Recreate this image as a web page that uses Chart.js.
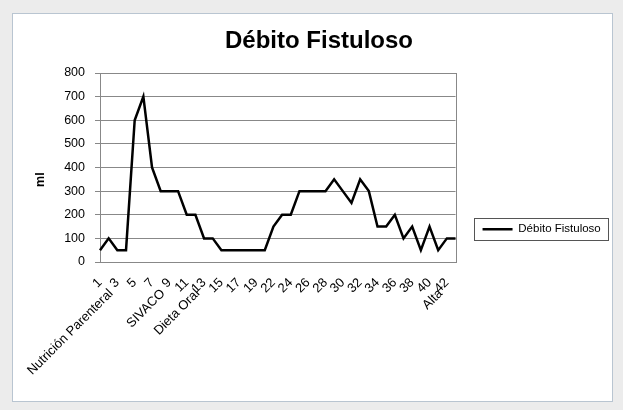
<!DOCTYPE html>
<html>
<head>
<meta charset="utf-8">
<script src="https://cdn.jsdelivr.net/npm/chart.js@4.4.0/dist/chart.umd.min.js"></script>
<style>
  html, body { margin: 0; padding: 0; background: #ececec; }
  #wrap { position: relative; width: 623px; height: 410px; }
  #frame { position: absolute; left: 12px; top: 13px; width: 599px; height: 387px; background: #fff; border: 1px solid #b9c5d1; }
  #fistula { position: absolute; left: 0; top: 0; }
</style>
</head>
<body>
<div id="wrap">
  <div id="frame"></div>
  <canvas id="fistula" width="623" height="410"></canvas>
</div>
<script>
// dias de internacion (el 21 no figura)
const days = [1, 2, 3, 4, 5, 6, 7, 8, 9, 10, 11, 12, 13, 14, 15, 16, 17, 18, 19, 20,
  22, 23, 24, 25, 26, 27, 28, 29, 30, 31, 32, 33, 34, 35, 36, 37, 38, 39, 40, 41, 42, 43];
// debito en ml
const volumes = [50, 100, 50, 50, 600, 700, 400, 300, 300, 300, 200, 200, 100, 100, 50, 50, 50, 50, 50, 50,
  150, 200, 200, 300, 300, 300, 300, 350, 300, 250, 350, 300, 150, 150, 200, 100, 150, 50, 150, 50, 100, 100];
const eventDays = [1, 7, 11, 40];
const eventNames = ['Nutrición Parenteral', 'SIVACO', 'Dieta Oral', 'Alta'];
const yTicks = [0, 100, 200, 300, 400, 500, 600, 700, 800];

const FONT = '"Liberation Sans", Arial, sans-serif';

function dayLabel(i) {
  if (i % 2) return '';
  const d = days[i];
  const k = eventDays.indexOf(d);
  return k >= 0 ? [String(d), eventNames[k]] : String(d);
}

// marco gris del area de trazado + borde de la leyenda
const plotFrame = {
  id: 'plotFrame',
  beforeDatasetsDraw(chart) {
    const a = chart.chartArea;
    const ctx = chart.ctx;
    ctx.save();
    ctx.strokeStyle = '#888';
    ctx.lineWidth = 1;
    ctx.strokeRect(Math.round(a.left) + 0.5, Math.round(a.top) + 0.5, Math.round(a.right - a.left), Math.round(a.bottom - a.top));
    ctx.restore();
  },
  afterDraw(chart) {
    const box = chart.legend.legendHitBoxes[0];
    if (!box) return;
    const ctx = chart.ctx;
    const l = Math.round(box.left) - 8.5;
    const r = Math.round(box.left + box.width) + 7.5;
    ctx.save();
    ctx.strokeStyle = '#555';
    ctx.lineWidth = 1;
    ctx.strokeRect(l, Math.round(box.top) - 5.5, r - l, Math.round(box.height) + 10);
    ctx.restore();
  }
};

new Chart(document.getElementById('fistula'), {
  type: 'line',
  data: {
    labels: days,
    datasets: [{
      label: 'Débito Fistuloso',
      data: volumes,
      borderColor: '#000',
      backgroundColor: '#000',
      borderWidth: 2.5,
      pointRadius: 0,
      tension: 0,
      fill: false
    }]
  },
  options: {
    responsive: false,
    animation: false,
    layout: { padding: { left: 27.25, right: 12.25, top: 16.6, bottom: 25 } },
    plugins: {
      title: {
        display: true,
        text: 'Débito Fistuloso',
        color: '#000',
        font: { family: FONT, size: 24, weight: 'bold' },
        padding: { top: 10, bottom: 17.6 }
      },
      legend: {
        position: 'right',
        align: 'end',
        fullSize: false,
        maxWidth: 200,
        labels: {
          color: '#000',
          font: { family: FONT, size: 11.5 },
          usePointStyle: true,
          pointStyle: 'line',
          pointStyleWidth: 30,
          padding: 27
        }
      },
      tooltip: { enabled: false }
    },
    scales: {
      x: {
        offset: false,
        grid: { display: false, drawTicks: false },
        border: { display: false },
        afterFit(scale) {
          scale.height = 123;
          scale.paddingLeft = 0;
          scale.paddingRight = 0;
        },
        ticks: {
          autoSkip: false,
          maxRotation: 45,
          minRotation: 45,
          padding: 13,
          color: '#000',
          font: { family: FONT, size: 13 },
          callback: (v, i) => dayLabel(i)
        }
      },
      y: {
        min: 0,
        max: 800,
        afterFit(scale) { scale.width = 72.75; },
        afterBuildTicks(scale) { scale.ticks = yTicks.map(v => ({ value: v })); },
        grid: { color: '#888', lineWidth: 1, tickLength: 5, drawTicks: true },
        border: { display: false },
        title: {
          display: true,
          text: 'ml       ', // los espacios bajan un poco el titulo, como en el original
          color: '#000',
          font: { family: FONT, size: 12.5, weight: 'bold' },
          padding: { top: 6.25, bottom: 0 }
        },
        ticks: {
          color: '#000',
          padding: 10,
          font: { family: FONT, size: 12.5 }
        }
      }
    }
  },
  plugins: [plotFrame]
});
</script>
</body>
</html>
